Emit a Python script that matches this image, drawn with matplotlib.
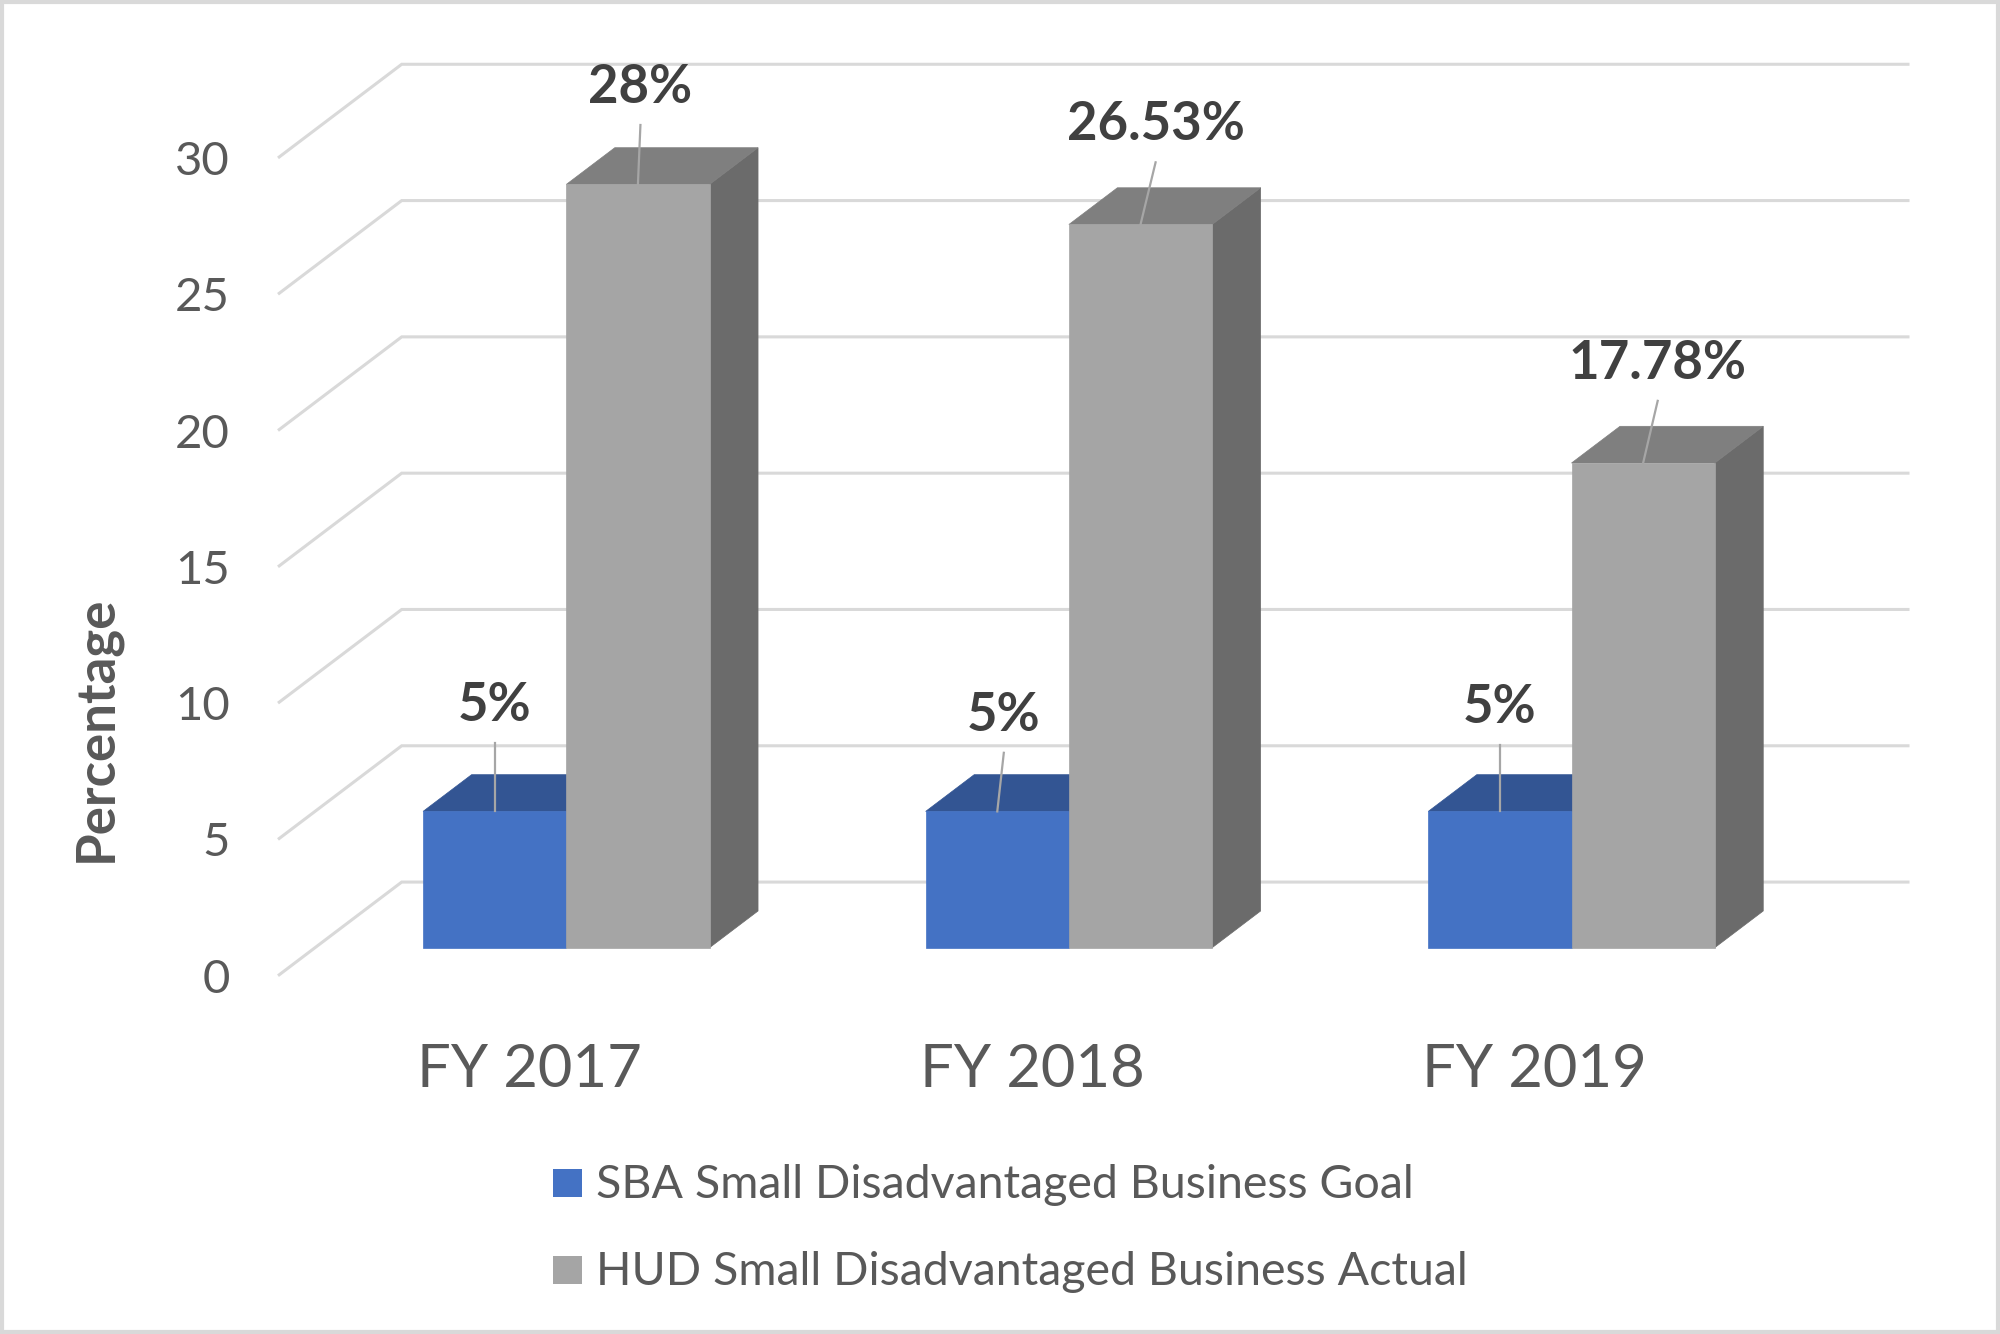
import matplotlib
matplotlib.use("Agg")
import matplotlib.pyplot as plt
from matplotlib.patches import Polygon, Rectangle

# ---------------- data ----------------
categories = ["FY 2017", "FY 2018", "FY 2019"]
goal = [5, 5, 5]
actual = [28, 26.53, 17.78]
goal_labels = ["5%", "5%", "5%"]
actual_labels = ["28%", "26.53%", "17.78%"]
yticks = [0, 5, 10, 15, 20, 25, 30]
series_names = ["SBA Small Disadvantaged Business Goal",
                "HUD Small Disadvantaged Business Actual"]

# ---------------- style / layout ----------------
plt.rcParams['font.family'] = ['Lato', 'DejaVu Sans']
BLUE_FRONT, BLUE_TOP, BLUE_SIDE = "#4472C4", "#335593", "#2A4A80"
GRAY_FRONT, GRAY_TOP, GRAY_SIDE = "#A5A5A5", "#7F7F7F", "#6B6B6B"
GRID = "#D9D9D9"
LABEL_C = "#404040"
TICK_C = "#595959"

W, H = 2000, 1334
PXC = 502.6      # pixels per category unit
PXV = 27.26      # pixels per percentage unit
X0 = 566.3       # pixel x of category 0 reference
Y0 = 947.7       # pixel y of value 0 on bar front plane
SLOPE = 0.757    # oblique depth ratio
Z_FLOOR = -37.0  # depth of floor front edge (px)
Z_WALL = 86.7    # depth of back wall (px)
Z_BAR = 48.5     # bar depth (px)
BAR_W = 0.285

fig = plt.figure(figsize=(20, 13.34), dpi=100)
ax = fig.add_axes([0, 0, 1, 1])
ax.set_xlim(-X0 / PXC, (W - X0) / PXC)
ax.set_ylim((Y0 - H) / PXV, Y0 / PXV)
ax.axis("off")


def P(x, v, z):
    """oblique projection of (category x, value v, depth z) into data coords"""
    return (x + z / PXC, v + SLOPE * z / PXV)


n = len(categories)
floor_l, floor_r = -0.5, n - 0.5

# back wall gridlines and left-side diagonals
for t in yticks:
    a = P(floor_l, t, Z_FLOOR)
    b = P(floor_l, t, Z_WALL)
    c = P(floor_r, t, Z_WALL)
    ax.plot([a[0], b[0], c[0]], [a[1], b[1], c[1]], color=GRID, lw=2.2,
            solid_capstyle="butt", solid_joinstyle="miter", zorder=1)
    ax.text(a[0] - 48 / PXC, a[1] - 17 / PXV, f"{t}", ha="right", va="baseline",
            fontsize=34, color=TICK_C, zorder=5)


def bar3d(x0, x1, v, cf, ct, cs):
    front = [P(x0, 0, 0), P(x1, 0, 0), P(x1, v, 0), P(x0, v, 0)]
    top = [P(x0, v, 0), P(x1, v, 0), P(x1, v, Z_BAR), P(x0, v, Z_BAR)]
    side = [P(x1, 0, 0), P(x1, 0, Z_BAR), P(x1, v, Z_BAR), P(x1, v, 0)]
    for pts, c in ((side, cs), (top, ct), (front, cf)):
        ax.add_patch(Polygon(pts, closed=True, facecolor=c, edgecolor=c,
                             lw=0.5, zorder=3))


# label placement offsets (layout only)
goal_lab_dx = [0.0, 0.013, 0.0]
goal_lab_dy = [4.02, 3.65, 3.93]
act_lab_dx = [0.005, 0.03, 0.029]
act_lab_dy = [3.68, 3.78, 3.78]


def label(xc, v, dx, dy, s):
    cy = v + dy
    ax.plot([xc, xc + dx], [v, cy - 1.5], color="#A6A6A6", lw=1.6, zorder=4)
    ax.text(xc + dx, cy - 19 / PXV, s, ha="center", va="baseline",
            fontsize=38, fontweight="bold", color=LABEL_C, zorder=5)


for i in range(n):
    bar3d(i - BAR_W, i, goal[i], BLUE_FRONT, BLUE_TOP, BLUE_SIDE)
    bar3d(i, i + BAR_W, actual[i], GRAY_FRONT, GRAY_TOP, GRAY_SIDE)
    label(i - BAR_W / 2, goal[i], goal_lab_dx[i], goal_lab_dy[i], goal_labels[i])
    label(i + BAR_W / 2, actual[i], act_lab_dx[i], act_lab_dy[i], actual_labels[i])
    cx, _ = P(i, 0, Z_FLOOR)
    ax.text(cx, (Y0 - 1086.7) / PXV, categories[i], ha="center", va="baseline",
            fontsize=43, color=TICK_C, zorder=5)

# y-axis title
fig.text(111 / W, 1 - 729 / H, "Percentage", rotation=90, rotation_mode="anchor",
         ha="center", va="baseline", fontsize=38, fontweight="bold", color=TICK_C)

# legend
leg_colors = [BLUE_FRONT, GRAY_FRONT]
leg_rows = [1183, 1270]
for name, col, yc in zip(series_names, leg_colors, leg_rows):
    fig.patches.append(Rectangle((553 / W, 1 - (yc + 14) / H), 29 / W, 28 / H,
                                 transform=fig.transFigure, facecolor=col,
                                 edgecolor="none"))
    fig.text(596 / W, 1 - (yc + 15) / H, name, ha="left", va="baseline",
             fontsize=33.5, color=TICK_C)

# outer border
fig.patches.append(Rectangle((0.001, 0.0015), 0.998, 0.997, transform=fig.transFigure,
                             facecolor="none", edgecolor=GRID, lw=3))

fig.savefig("out.png", dpi=100, facecolor="white")
